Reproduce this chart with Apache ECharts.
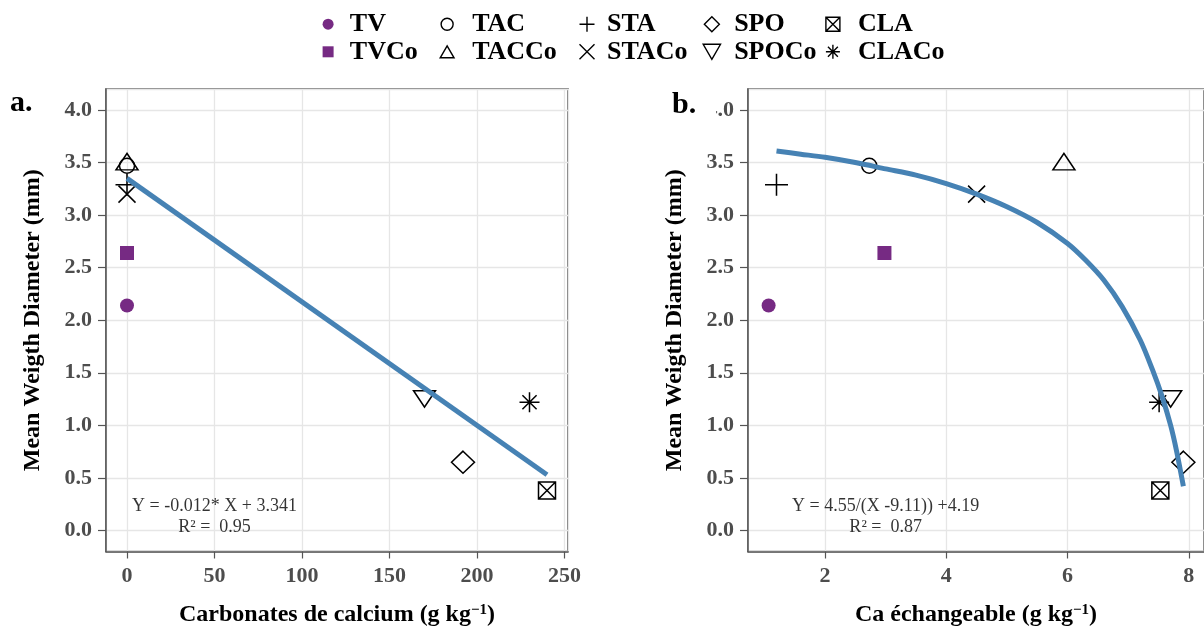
<!DOCTYPE html>
<html>
<head>
<meta charset="utf-8">
<script src="https://cdn.jsdelivr.net/npm/echarts@6/dist/echarts.min.js"></script>
<style>
html,body{margin:0;padding:0;background:#fff;}
#chart{width:1204px;height:632px;}
</style>
</head>
<body>
<div id="chart"></div>
<script>
// ---------- data ----------
const treatments = ['TV', 'TVCo', 'TAC', 'TACCo', 'STA', 'STACo', 'SPO', 'SPOCo', 'CLA', 'CLACo'];
const carbonates = [0, 0, 0, 0, 0, 0, 192, 170, 240, 230];          // g/kg
const caExch = [1.07, 2.98, 2.73, 5.94, 1.20, 4.50, 7.91, 7.70, 7.53, 7.51]; // g/kg
const mwd = [2.14, 2.64, 3.47, 3.48, 3.29, 3.20, 0.65, 1.28, 0.38, 1.22];    // mm

const fitLinX = [0, 240];
const fitLinY = [3.35, 0.53];
const fitCaX = [1.20, 1.6, 2.0, 2.5, 3.0, 3.5, 4.0, 4.5, 5.0, 5.5, 6.0, 6.3, 6.6, 6.9, 7.2, 7.4, 7.55, 7.7, 7.8, 7.91];
const fitCaY = [3.61, 3.58, 3.55, 3.50, 3.44, 3.38, 3.30, 3.20, 3.08, 2.93, 2.73, 2.57, 2.38, 2.13, 1.81, 1.53, 1.29, 1.00, 0.75, 0.42];

const eqLeft = ['Y = -0.012* X + 3.341', 'R\u00B2 =  0.95'];
const eqLeftPos = [50, 0.13];
const eqRight = ['Y = 4.55/(X -9.11)) +4.19', 'R\u00B2 =  0.87'];
const eqRightPos = [3, 0.13];

const yTitle = 'Mean Weigth Diameter (mm)';
const xTitleA = 'Carbonates de calcium';
const xTitleB = 'Ca \u00E9changeable';

// ---------- styles ----------
const SERIF = "'Liberation Serif', 'Times New Roman', serif";
const PURPLE = '#762A83';
const BLUE = '#4682B4';
const P = {
  square: 'path://M0,0L10,0L10,10L0,10Z',
  triUp: 'path://M5,0L10,8.66L0,8.66Z',
  triDown: 'path://M0,0L10,0L5,8.66Z',
  plus: 'path://M5,0L5,10M0,5L10,5',
  cross: 'path://M0,0L10,10M10,0L0,10',
  diamond: 'path://M5,0L10,5L5,10L0,5Z',
  boxX: 'path://M0,0L10,0L10,10L0,10ZM0,0L10,10M10,0L0,10',
  star: 'path://M5,0L5,10M0,5L10,5M1.46,1.46L8.54,8.54M8.54,1.46L1.46,8.54'
};
const markStyle = {
  TV:    {symbol: 'circle',  size: 14,       offset: [0, 0],  filled: true},
  TVCo:  {symbol: P.square,  size: [14, 14], offset: [0, 0],  filled: true},
  TAC:   {symbol: 'circle',  size: 15,       offset: [0, 0],  filled: false},
  TACCo: {symbol: P.triUp,   size: [22, 19], offset: [0, -3], filled: false},
  STA:   {symbol: P.plus,    size: [23, 22], offset: [0, 0],  filled: false},
  STACo: {symbol: P.cross,   size: [17, 17], offset: [0, 0],  filled: false},
  SPO:   {symbol: P.diamond, size: [23, 22], offset: [0, 0],  filled: false},
  SPOCo: {symbol: P.triDown, size: [22, 19], offset: [0, 3],  filled: false},
  CLA:   {symbol: P.boxX,    size: [17, 17], offset: [0, 0],  filled: false},
  CLACo: {symbol: P.star,    size: [20, 20], offset: [0, 0],  filled: false}
};
const itemStyleOf = (n) => markStyle[n].filled
  ? {color: PURPLE, borderWidth: 0, opacity: 1}
  : {color: 'none', borderColor: '#000', borderWidth: 1.5, opacity: 1};

// ---------- series ----------
const series = [];
[0, 1].forEach(function (g) {
  treatments.forEach(function (n, i) {
    const s = markStyle[n];
    series.push({
      name: n, type: 'scatter', xAxisIndex: g, yAxisIndex: g,
      symbol: s.symbol, symbolSize: s.size, symbolOffset: s.offset,
      symbolKeepAspect: true,
      itemStyle: itemStyleOf(n),
      emphasis: {disabled: true},
      z: 3,
      data: [[g === 0 ? carbonates[i] : caExch[i], mwd[i]]]
    });
  });
});
series.push({
  type: 'line', xAxisIndex: 0, yAxisIndex: 0, showSymbol: false, silent: true,
  lineStyle: {color: BLUE, width: 5}, z: 5,
  data: fitLinX.map((x, i) => [x, fitLinY[i]])
});
series.push({
  type: 'line', xAxisIndex: 1, yAxisIndex: 1, showSymbol: false, silent: true,
  smooth: 0.3,
  lineStyle: {color: BLUE, width: 5}, z: 5,
  data: fitCaX.map((x, i) => [x, fitCaY[i]])
});
function eqSeries(g, pos, lines) {
  return {
    type: 'scatter', xAxisIndex: g, yAxisIndex: g, symbolSize: 0, silent: true, z: 6,
    data: [pos],
    label: {
      show: true, position: 'inside', formatter: lines.join('\n'),
      fontFamily: SERIF, fontSize: 18, color: '#000', lineHeight: 21.7, align: 'center'
    }
  };
}
series.push(eqSeries(0, eqLeftPos, eqLeft));
series.push(eqSeries(1, eqRightPos, eqRight));

// ---------- axes ----------
function xAxis(g, min, max, split, title) {
  return {
    type: 'value', gridIndex: g, min: min, max: max, splitNumber: split,
    name: title + ' (g kg{sup|\u22121})', nameLocation: 'middle', nameGap: 51,
    nameTextStyle: {
      fontFamily: SERIF, fontSize: 24, fontWeight: 'bold', color: '#000',
      rich: {sup: {fontFamily: SERIF, fontSize: 15, fontWeight: 'bold', color: '#000', verticalAlign: 'top', padding: [0, 0, 10, 0]}}
    },
    axisLine: {show: true, onZero: false, lineStyle: {color: '#555', width: 1.5}},
    axisTick: {show: true, inside: false, length: 7, lineStyle: {color: '#555', width: 1.2}},
    axisLabel: {show: true, margin: 14, showMinLabel: false, showMaxLabel: false,
      fontFamily: SERIF, fontSize: 22, fontWeight: 'bold', color: '#4D4D4D'},
    splitLine: {show: true, lineStyle: {color: '#E6E6E6', width: 1.3}}
  };
}
function yAxis(g) {
  return {
    type: 'value', gridIndex: g, min: -0.2, max: 4.2, splitNumber: 9,
    name: yTitle, nameLocation: 'middle', nameGap: 61,
    nameTextStyle: {fontFamily: SERIF, fontSize: 24, fontWeight: 'bold', color: '#000'},
    axisLine: {show: true, onZero: false, lineStyle: {color: '#555', width: 1.5}},
    axisTick: {show: true, inside: false, length: 8, lineStyle: {color: '#555', width: 1.2}},
    axisLabel: {show: true, margin: 14, showMinLabel: false, showMaxLabel: false,
      formatter: (v) => v.toFixed(1),
      fontFamily: SERIF, fontSize: 22, fontWeight: 'bold', color: '#4D4D4D'},
    splitLine: {show: true, lineStyle: {color: '#E6E6E6', width: 1.3}}
  };
}

// ---------- legend (5 columns x 2 rows) ----------
const legendCols = [
  {names: ['TV', 'TVCo'],     left: 322.6, w: 33.4, h: 11},
  {names: ['TAC', 'TACCo'],   left: 437.7, w: 40,   h: 12},
  {names: ['STA', 'STACo'],   left: 577,   w: 30,   h: 15},
  {names: ['SPO', 'SPOCo'],   left: 700.7, w: 34.6, h: 15},
  {names: ['CLA', 'CLACo'],   left: 823.4, w: 40,   h: 14}
];
const legends = legendCols.map(function (c) {
  return {
    orient: 'vertical', left: c.left, top: 10.4, padding: 0,
    itemWidth: c.w, itemHeight: c.h, itemGap: 0, selectedMode: false,
    symbolKeepAspect: true,
    textStyle: {fontFamily: SERIF, fontSize: 26, fontWeight: 'bold', color: '#000', lineHeight: 27.6},
    data: c.names.map(function (n) {
      const s = markStyle[n];
      return {
        name: n, icon: s.symbol, symbolKeepAspect: true,
        itemStyle: s.filled ? {color: PURPLE, borderWidth: 0}
                            : {color: 'none', borderColor: '#000', borderWidth: 1.4}
      };
    })
  };
});

const option = {
  backgroundColor: '#fff',
  animation: false,
  legend: legends,
  grid: [
    {left: 106, top: 89, width: 462, height: 468, show: true, borderColor: '#555', borderWidth: 1.5, backgroundColor: 'transparent'},
    {left: 748, top: 89, width: 462, height: 468, show: true, borderColor: '#555', borderWidth: 1.5, backgroundColor: 'transparent'}
  ],
  xAxis: [xAxis(0, -12, 252, 5, xTitleA), xAxis(1, 0.73, 8.25, 4, xTitleB)],
  yAxis: [yAxis(0), yAxis(1)],
  graphic: [
    {type: 'text', left: 10, top: 88, z: 100,
      style: {text: 'a.', font: 'bold 30px ' + SERIF, fill: '#000'}},
    {type: 'text', left: 671, top: 88, z: 100,
      style: {text: 'b.', font: 'bold 30px ' + SERIF, fill: '#000', backgroundColor: '#fff', padding: [2, 20, 2, 1]}}
  ],
  series: series
};

const chart = echarts.init(document.getElementById('chart'), null, {renderer: 'canvas'});
chart.setOption(option);
</script>
</body>
</html>
